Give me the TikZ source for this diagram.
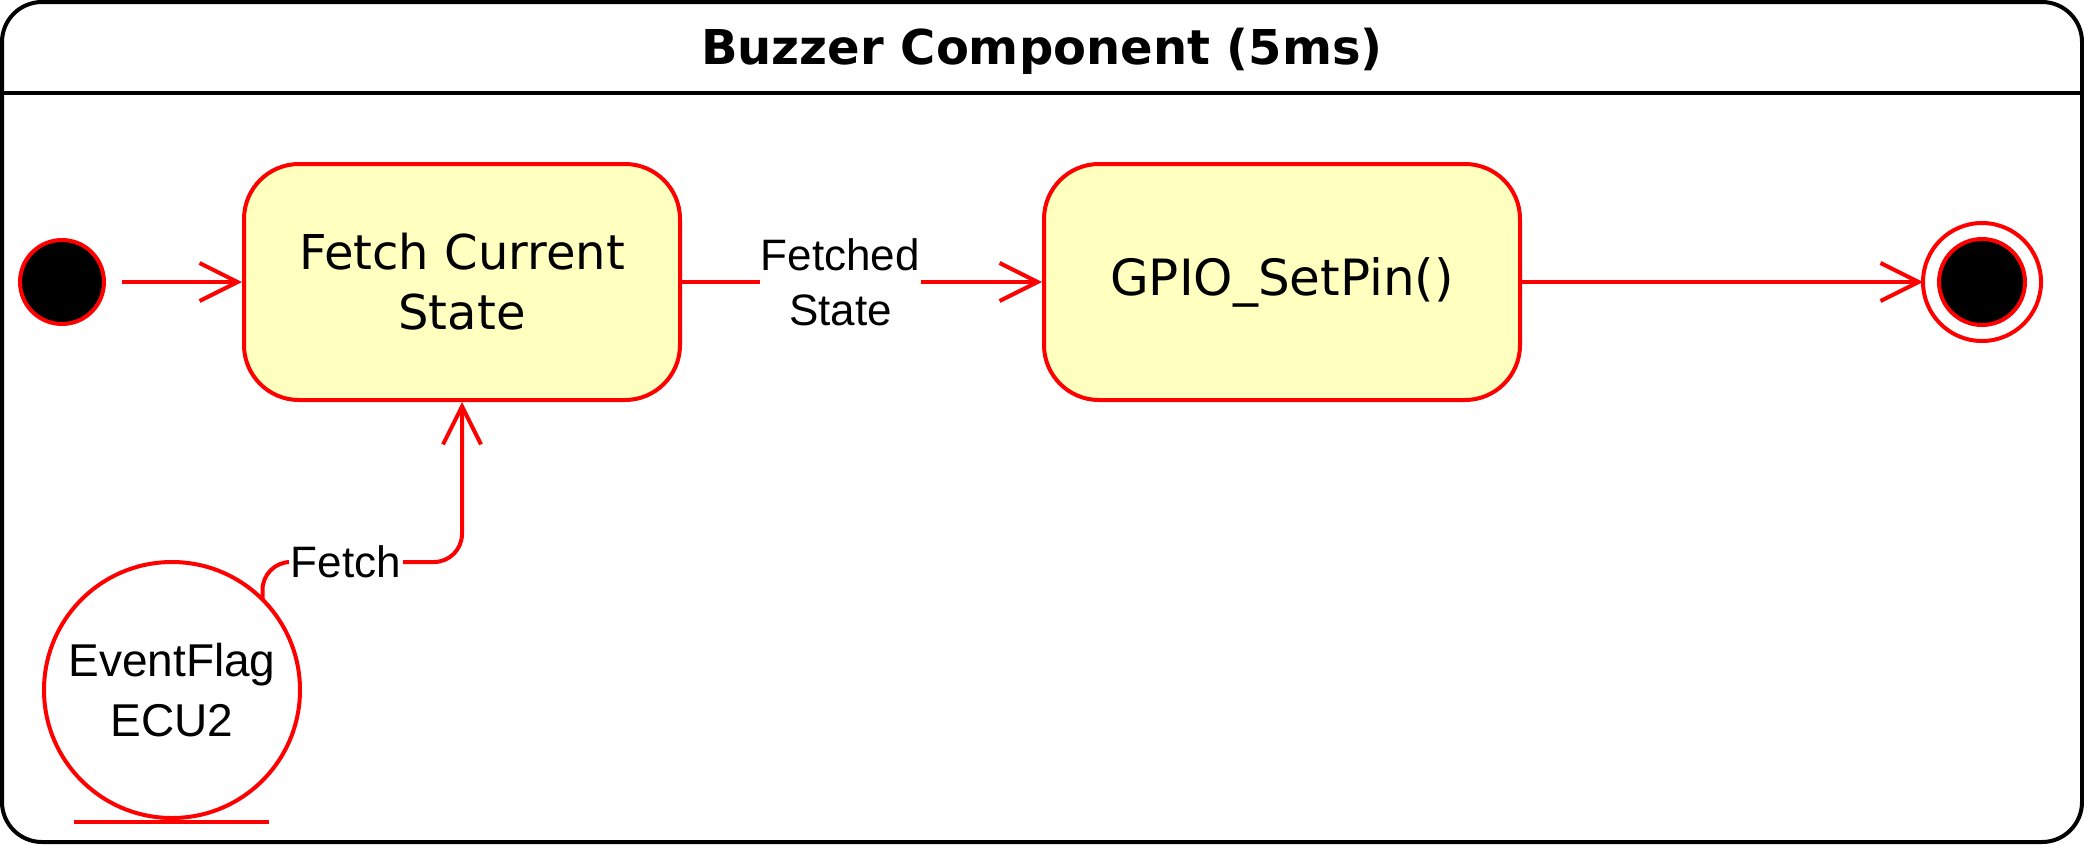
\documentclass[tikz,border=0pt]{standalone}
\usepackage{fontspec}
\setmainfont{DejaVu Sans}
\newfontfamily\labfont{Liberation Sans}
\usetikzlibrary{arrows.meta,shapes.geometric}
\definecolor{umlred}{HTML}{FF0000}
\definecolor{umlfill}{HTML}{FFFFC0}
\begin{document}
\begin{tikzpicture}[x=1pt,y=-1pt,
  statebox/.style={draw=umlred,fill=umlfill,line width=4pt,rounded corners=55pt,
    minimum height=236pt,align=center,inner sep=0pt,
    font=\fontsize{48}{60}\selectfont},
  conn/.style={draw=umlred,line width=4pt,-{Straight Barb[length=38pt,width=38pt]}},
  plainconn/.style={draw=umlred,line width=4pt},
  lab/.style={fill=white,inner sep=1pt,align=center,font=\labfont\fontsize{44}{55}\selectfont},
  dot/.style={circle,draw=umlred,fill=black,line width=4pt,inner sep=0pt,outer sep=0pt}]
\useasboundingbox (0,0) rectangle (2084,844);
% frame
\draw[line width=4pt,rounded corners=40pt] (2,2) rectangle (2082,842);
\coordinate (hl) at (2,93);
\coordinate (hr) at (2082,93);
\draw[line width=4pt] (hl) -- (hr);
\node[font=\fontsize{48}{58}\selectfont\bfseries] (title) at (1042,51) {Buzzer Component (5ms)};
% nodes
\node[dot,minimum size=84pt] (init) at (62,282) {};
\node[statebox,minimum width=436pt] (fetch) at (462,282) {Fetch Current\\State};
\node[statebox,minimum width=476pt,font=\fontsize{50}{60}\selectfont] (gpio) at (1282,282) {GPIO\_SetPin()};
\node[circle,draw=umlred,line width=4pt,minimum size=118pt,inner sep=0pt,outer sep=0pt] (final) at (1982,282) {};
\node[dot,minimum size=86pt] (finalin) at (1982,282) {};
\node[circle,draw=umlred,fill=white,line width=4pt,minimum size=256pt,inner sep=0pt,outer sep=0pt,
  align=center,font=\labfont\fontsize{46}{60}\selectfont] (ef) at (172,690) {EventFlag\\ECU2};
\coordinate (efl) at (74,822);
\coordinate (efr) at (269,822);
\draw[plainconn] (efl) -- (efr);
% connectors
\coordinate (initout) at (122,282);
\draw[conn] (initout) -- (fetch.west);
\draw[conn] (fetch.east) -- node[lab,pos=0.44] (fslab) {Fetched\\State} (gpio.west);
\draw[conn] (gpio.east) -- (final.west);
\coordinate (fk) at (346,562);
\draw[conn,rounded corners=28pt] (ef.north east) |- (fk) -| (fetch.south);
\node[lab,inner sep=2pt] (fklab) at (fk) {Fetch};
\end{tikzpicture}
\end{document}
